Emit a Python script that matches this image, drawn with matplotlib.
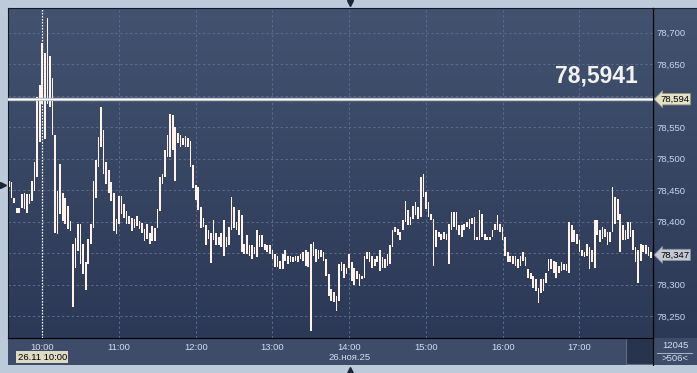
import matplotlib
matplotlib.use("Agg")
import matplotlib.pyplot as plt
import numpy as np
from matplotlib.transforms import blended_transform_factory
from matplotlib.lines import Line2D
from matplotlib.patches import Rectangle
from matplotlib.colors import LinearSegmentedColormap

plt.rcParams['font.family'] = ['Liberation Sans', 'DejaVu Sans']

# ---------------- data (2-minute bars, minutes relative to 10:00) ----------------
start_minute = -26          # 09:34
bar_step = 2                # minutes per bar

bar_high = [
    78.465, 78.462, 78.438, 78.422, 78.422, 78.444, 78.446, 78.444, 78.444, 78.465,
    78.494, 78.598, 78.617, 78.683, 78.667, 78.723, 78.662, 78.627, 78.537, 78.449,
    78.492, 78.446, 78.438, 78.425, 78.401, 78.364, 78.374, 78.396, 78.396, 78.364,
    78.335, 78.372, 78.396, 78.465, 78.497, 78.534, 78.582, 78.545, 78.494, 78.481,
    78.462, 78.446, 78.404, 78.441, 78.441, 78.428, 78.417, 78.409, 78.406, 78.404,
    78.409, 78.401, 78.398, 78.388, 78.396, 78.382, 78.393, 78.390, 78.420, 78.470,
    78.476, 78.513, 78.537, 78.571, 78.569, 78.550,
    78.540, 78.538, 78.532, 78.535, 78.532, 78.527, 78.490, 78.458, 78.455, 78.423,
    78.405, 78.394, 78.386, 78.381, 78.402, 78.381, 78.375, 78.381, 78.402, 78.375,
    78.391, 78.439, 78.423, 78.399, 78.418, 78.410, 78.365, 78.378, 78.362, 78.362,
    78.360, 78.386, 78.378, 78.378, 78.365, 78.362, 78.362, 78.354, 78.349, 78.346,
    78.338, 78.349, 78.354, 78.346, 78.346, 78.344, 78.346, 78.346, 78.348, 78.352,
    78.354, 78.352, 78.365, 78.367, 78.357, 78.354, 78.354, 78.352, 78.341, 78.317,
    78.293, 78.288, 78.282, 78.333,
    78.335, 78.332, 78.327, 78.348, 78.335, 78.327, 78.322, 78.316, 78.314, 78.346,
    78.351, 78.351, 78.346, 78.340, 78.346, 78.354, 78.343, 78.340, 78.348, 78.362,
    78.386, 78.391, 78.388, 78.383, 78.402, 78.433, 78.418, 78.407, 78.425, 78.431,
    78.423, 78.471, 78.476, 78.447, 78.431, 78.412, 78.404, 78.386, 78.383, 78.380,
    78.383, 78.380, 78.396, 78.415, 78.415, 78.415, 78.394, 78.394, 78.396, 78.399,
    78.404, 78.406, 78.407, 78.375, 78.418, 78.412, 78.380, 78.375, 78.376, 78.386,
    78.396, 78.410, 78.396, 78.391, 78.375, 78.351, 78.346, 78.346, 78.346, 78.340,
    78.346, 78.351, 78.343, 78.324, 78.319, 78.314, 78.308, 78.295, 78.308, 78.308,
    78.319, 78.340, 78.340, 78.338, 78.335, 78.330, 78.335, 78.332, 78.332, 78.399,
    78.394, 78.386, 78.380, 78.370, 78.354, 78.351, 78.364, 78.359, 78.354, 78.402,
    78.402, 78.386, 78.391, 78.388, 78.383, 78.383, 78.455, 78.439, 78.436, 78.412,
    78.394, 78.386, 78.399, 78.399, 78.386, 78.359, 78.354, 78.364, 78.362, 78.362,
    78.359, 78.351,
]

bar_low = [
    78.454, 78.438, 78.430, 78.414, 78.414, 78.422, 78.420, 78.414, 78.428, 78.433,
    78.449, 78.470, 78.526, 78.587, 78.531, 78.587, 78.582, 78.537, 78.382, 78.380,
    78.412, 78.401, 78.396, 78.388, 78.385, 78.265, 78.327, 78.353, 78.332, 78.316,
    78.292, 78.332, 78.364, 78.390, 78.438, 78.486, 78.518, 78.476, 78.460, 78.446,
    78.433, 78.385, 78.380, 78.396, 78.412, 78.406, 78.396, 78.396, 78.385, 78.390,
    78.393, 78.388, 78.382, 78.369, 78.372, 78.364, 78.369, 78.369, 78.390, 78.417,
    78.460, 78.470, 78.502, 78.502, 78.513, 78.465,
    78.524, 78.519, 78.522, 78.519, 78.519, 78.487, 78.453, 78.434, 78.418, 78.389,
    78.391, 78.362, 78.373, 78.334, 78.370, 78.362, 78.362, 78.360, 78.346, 78.360,
    78.362, 78.386, 78.389, 78.386, 78.378, 78.352, 78.349, 78.349, 78.346, 78.341,
    78.349, 78.344, 78.360, 78.360, 78.354, 78.352, 78.349, 78.341, 78.328, 78.328,
    78.325, 78.325, 78.338, 78.333, 78.336, 78.336, 78.338, 78.336, 78.341, 78.338,
    78.330, 78.328, 78.227, 78.346, 78.336, 78.341, 78.344, 78.338, 78.314, 78.282,
    78.274, 78.272, 78.258, 78.274,
    78.322, 78.311, 78.316, 78.327, 78.306, 78.300, 78.308, 78.298, 78.308, 78.311,
    78.340, 78.335, 78.327, 78.330, 78.335, 78.322, 78.327, 78.327, 78.330, 78.332,
    78.359, 78.383, 78.378, 78.370, 78.386, 78.399, 78.394, 78.394, 78.404, 78.410,
    78.404, 78.407, 78.439, 78.420, 78.407, 78.402, 78.330, 78.359, 78.375, 78.370,
    78.372, 78.370, 78.333, 78.386, 78.391, 78.386, 78.378, 78.375, 78.386, 78.391,
    78.388, 78.396, 78.370, 78.370, 78.370, 78.375, 78.370, 78.370, 78.370, 78.375,
    78.386, 78.386, 78.383, 78.370, 78.346, 78.335, 78.335, 78.332, 78.330, 78.327,
    78.330, 78.338, 78.330, 78.311, 78.308, 78.295, 78.290, 78.271, 78.287, 78.290,
    78.303, 78.322, 78.324, 78.319, 78.311, 78.319, 78.322, 78.323, 78.322, 78.319,
    78.367, 78.367, 78.364, 78.351, 78.346, 78.343, 78.346, 78.324, 78.335, 78.327,
    78.378, 78.367, 78.372, 78.375, 78.362, 78.367, 78.383, 78.396, 78.402, 78.351,
    78.370, 78.370, 78.372, 78.375, 78.354, 78.335, 78.303, 78.338, 78.351, 78.348,
    78.346, 78.342,
]

hour_labels = ["10:00", "11:00", "12:00", "13:00", "14:00", "15:00", "16:00", "17:00"]
price_levels = [78.25, 78.30, 78.35, 78.40, 78.45, 78.50, 78.55, 78.60, 78.65, 78.70]
level_price = 78.5941
level_label = "78,5941"
last_price = 78.347
cursor_label = "26.11 10:00"
date_label = "26.ноя.25"
volume_text = "12045"
count_text = ">506<"

# ---------------- figure ----------------
W, H = 697, 373
fig = plt.figure(figsize=(W / 100, H / 100), dpi=100, facecolor='#bccad9')


def rect(l, t, r, b):
    return [l / W, 1 - b / H, (r - l) / W, (b - t) / H]


bg = LinearSegmentedColormap.from_list('bg', ['#2b3856', '#43536f'])
grad = np.linspace(0, 1, 256).reshape(-1, 1)

# right price panel
ax_r = fig.add_axes(rect(653, 8, 697, 338), zorder=1)
ax_r.imshow(grad, extent=[0, 1, 0, 1], origin='lower', cmap=bg, aspect='auto')
ax_r.set_xlim(0, 1); ax_r.set_ylim(0, 1)
ax_r.set_xticks([]); ax_r.set_yticks([])
for s in ax_r.spines.values():
    s.set_visible(False)
ax_r.spines['left'].set_visible(True)
ax_r.spines['left'].set_color('black')
ax_r.spines['top'].set_visible(True)
ax_r.spines['top'].set_color('#1a2236')

# bottom time panel
ax_b = fig.add_axes(rect(8, 338, 653, 365), zorder=1)
ax_b.set_facecolor('#3e4c69')
ax_b.set_xlim(0, 1); ax_b.set_ylim(0, 1)
ax_b.set_xticks([]); ax_b.set_yticks([])
for s in ax_b.spines.values():
    s.set_visible(False)
ax_b.add_patch(Rectangle((0.958, 0.04), 0.042, 0.96, facecolor='#28334d',
                         edgecolor='#5d6983', lw=0.8))

# bottom-right cell
ax_c = fig.add_axes(rect(653, 338, 697, 365), zorder=1)
ax_c.set_facecolor('#3e4c69')
ax_c.set_xlim(0, 1); ax_c.set_ylim(0, 1)
ax_c.set_xticks([]); ax_c.set_yticks([])
for s in ax_c.spines.values():
    s.set_visible(False)
ax_c.spines['left'].set_visible(True)
ax_c.spines['left'].set_color('black')
ax_c.text(0.5, 0.71, volume_text, ha='center', va='center', fontsize=6.8, color='#d4def0')
ax_c.plot([0.09, 0.89], [0.46, 0.46], color='#aab6cc', lw=0.7)
ax_c.text(0.5, 0.24, count_text, ha='center', va='center', fontsize=6.8, color='#d4def0')

# main chart
ax = fig.add_axes(rect(8, 8, 653, 338), zorder=5)
ax.imshow(grad, extent=[0, 1, 0, 1], transform=ax.transAxes, origin='lower',
          cmap=bg, aspect='auto', zorder=0)

t = start_minute + bar_step * np.arange(len(bar_high))
hi = np.array(bar_high)
lo = np.array(bar_low)
ax.bar(t, hi - lo, bottom=lo, width=1.3, color='#fff3ec', lw=0, zorder=2)

ax.set_xlim(-26.8, 477.6)
ax.set_ylim(78.2151, 78.7389)

ax.set_xticks(np.arange(len(hour_labels)) * 60)
ax.set_xticklabels(hour_labels)
ax.set_yticks(price_levels)
# labels at levels covered by the price tags are hidden, as in the original
covered = [level_price, last_price]
ax.set_yticklabels([
    "" if min(abs(p - c) for c in covered) < 0.012 else f"{p:.3f}".replace('.', ',')
    for p in price_levels
])
ax.yaxis.tick_right()
ax.tick_params(axis='x', length=0, pad=3.5, labelsize=6.8, labelcolor='#d4def0')
ax.tick_params(axis='y', length=0, pad=2.5, labelsize=6.8, labelcolor='#c8d6ee')
ax.set_axisbelow(True)
ax.grid(True, color='#5b6b8e', ls=(0, (2.5, 2.5)), lw=0.7)

ax.spines['left'].set_color('#10182a')
ax.spines['top'].set_color('#10182a')
ax.spines['right'].set_color('black')
ax.spines['bottom'].set_color('black')

# cursor line at 10:00
ax.axvline(0, color='white', lw=0.9, ls=(0, (1.2, 1.2)), zorder=3)

# horizontal level line
ax.axhline(level_price, color='#b4bac6', lw=2.4, zorder=4)
ax.axhline(level_price, color='white', lw=1.0, zorder=4)

blend = blended_transform_factory(ax.transAxes, ax.transData)
ax.annotate(level_label, xy=(0.977, level_price), xycoords=blend,
            xytext=(0, 12.3), textcoords='offset points', ha='right', va='baseline',
            fontsize=16.5, fontweight='bold', color='#f2f2f2', zorder=6)

ax.text(1.011, level_price, f"{level_price:.3f}".replace('.', ','), transform=blend,
        ha='left', va='center', fontsize=6.8, color='black', clip_on=False, zorder=10,
        bbox=dict(boxstyle='larrow,pad=0.12', fc='#e2e2c8', ec='#9a9a88', lw=0.6))
ax.text(1.011, last_price, f"{last_price:.3f}".replace('.', ','), transform=blend,
        ha='left', va='center', fontsize=6.8, color='black', clip_on=False, zorder=10,
        bbox=dict(boxstyle='larrow,pad=0.12', fc='#c3c9d3', ec='#8890a0', lw=0.6))

# bottom labels
bx = blended_transform_factory(ax.transData, fig.transFigure)
ax.text(0, 1 - 357 / H, cursor_label, transform=bx, ha='center', va='center',
        fontsize=6.8, color='black', clip_on=False, zorder=10,
        bbox=dict(boxstyle='square,pad=0.15', fc='#dcdcc4', ec='none'))
ax.text(240, 1 - 357 / H, date_label, transform=bx, ha='center', va='center',
        fontsize=6.8, color='#d4def0', clip_on=False, zorder=10)

# frame triangles
for (px, py, mk) in [(350, 3, 'v'), (350, 370, '^'), (3, 185, '>')]:
    fig.add_artist(Line2D([px / W], [1 - py / H], marker=mk, ms=5, color='#1c2638',
                          transform=fig.transFigure))

fig.savefig('out.png', dpi=100, facecolor=fig.get_facecolor())
